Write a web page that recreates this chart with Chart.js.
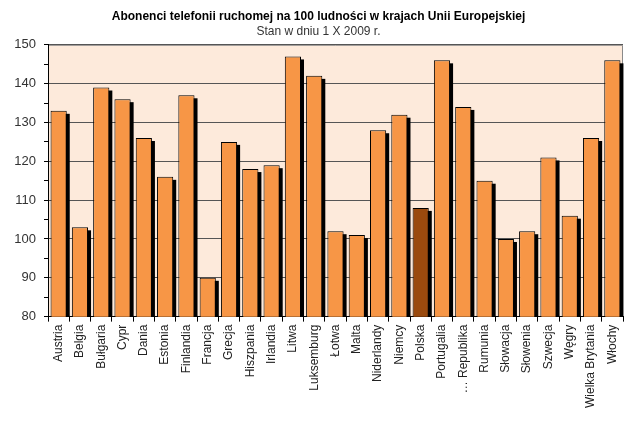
<!DOCTYPE html>
<html>
<head>
<meta charset="utf-8">
<script src="https://cdn.jsdelivr.net/npm/chart.js@4/dist/chart.umd.min.js"></script>
<style>
  html, body { margin: 0; padding: 0; background: #fff; }
  #wrap { width: 640px; height: 421px; }
</style>
</head>
<body>
<div id="wrap"><canvas id="chart" width="640" height="421"></canvas></div>
<script>
// abonenci telefonii ruchomej na 100 ludnosci, stan 1 X 2009
const countries = ["Austria", "Belgia", "Bułgaria", "Cypr", "Dania", "Estonia", "Finlandia", "Francja",
  "Grecja", "Hiszpania", "Irlandia", "Litwa", "Luksemburg", "Łotwa", "Malta", "Niderlandy", "Niemcy",
  "Polska", "Portugalia", "… Republika", "Rumunia", "Słowacja", "Słowenia", "Szwecja", "Węgry",
  "Wielka Brytania", "Włochy"];
const subscribers = [133, 103, 139, 136, 126, 116, 137, 90, 125, 118, 119, 147, 142, 102, 101, 128, 132,
  108, 146, 134, 115, 100, 102, 121, 106, 126, 146];
const highlighted = "Polska";
const yTicks = [80, 90, 100, 110, 120, 130, 140, 150];

// peach plot area + black drop shadow behind each bar
const plotBg = {
  id: "plotBg",
  beforeDraw(chart) {
    const { ctx, chartArea: a } = chart;
    ctx.save();
    ctx.fillStyle = "#fdeadb";
    ctx.fillRect(a.left, a.top, a.right - a.left, a.bottom - a.top);
    ctx.strokeStyle = "#8a8a8a";
    ctx.lineWidth = 1;
    ctx.beginPath();
    ctx.moveTo(a.left, a.top + 0.5);
    ctx.lineTo(a.right - 0.5, a.top + 0.5);
    ctx.lineTo(a.right - 0.5, a.bottom);
    ctx.stroke();
    ctx.restore();
  },
  beforeDatasetsDraw(chart) {
    const { ctx, chartArea: a } = chart;
    const bars = chart.getDatasetMeta(0).data;
    ctx.save();
    ctx.fillStyle = "#000";
    bars.forEach((b) => {
      const p = b.getProps(["x", "y", "base", "width"], true);
      const left = p.x - p.width / 2 + 3;
      const top = p.y + 3;
      ctx.fillRect(left, top, p.width, a.bottom - top);
    });
    ctx.restore();
  }
};

new Chart(document.getElementById("chart"), {
  type: "bar",
  data: {
    labels: countries,
    datasets: [{
      data: subscribers,
      backgroundColor: countries.map((c) => (c === highlighted ? "#9a4a0e" : "#f79646")),
      borderColor: "#000",
      borderWidth: 1,
      borderSkipped: false,
      categoryPercentage: 1,
      barPercentage: 0.76
    }]
  },
  options: {
    responsive: false,
    animation: false,
    layout: { padding: { left: 14, right: 17, top: 7, bottom: 10 } },
    plugins: {
      legend: { display: false },
      tooltip: { enabled: false },
      title: {
        display: true,
        text: "Abonenci telefonii ruchomej na 100 ludności w krajach Unii Europejskiej",
        color: "#000",
        font: { family: "Liberation Sans", size: 12, weight: "bold" },
        padding: { top: 2, bottom: 1 }
      },
      subtitle: {
        display: true,
        text: "Stan w dniu 1 X 2009 r.",
        color: "#333",
        font: { family: "Liberation Sans", size: 12 },
        padding: { top: 0, bottom: 6 }
      }
    },
    scales: {
      x: {
        grid: { drawOnChartArea: false, offset: true, tickLength: 5, color: "#000" },
        border: { color: "#000" },
        ticks: {
          color: "#222",
          minRotation: 90,
          maxRotation: 90,
          autoSkip: false,
          padding: 3,
          font: { family: "Liberation Sans", size: 12 }
        }
      },
      y: {
        min: 80,
        max: 150,
        afterFit(scale) { scale.width = 34; },
        border: { color: "#000" },
        grid: {
          tickLength: 4,
          color: (c) => (c.tick && yTicks.includes(c.tick.value) ? "#555" : "rgba(0,0,0,0)"),
          tickColor: "#000"
        },
        ticks: {
          stepSize: 5,
          padding: 8,
          color: "#333",
          font: { family: "Liberation Sans", size: 13 },
          callback: (v) => (yTicks.includes(v) ? v : "")
        }
      }
    }
  },
  plugins: [plotBg]
});
</script>
</body>
</html>
